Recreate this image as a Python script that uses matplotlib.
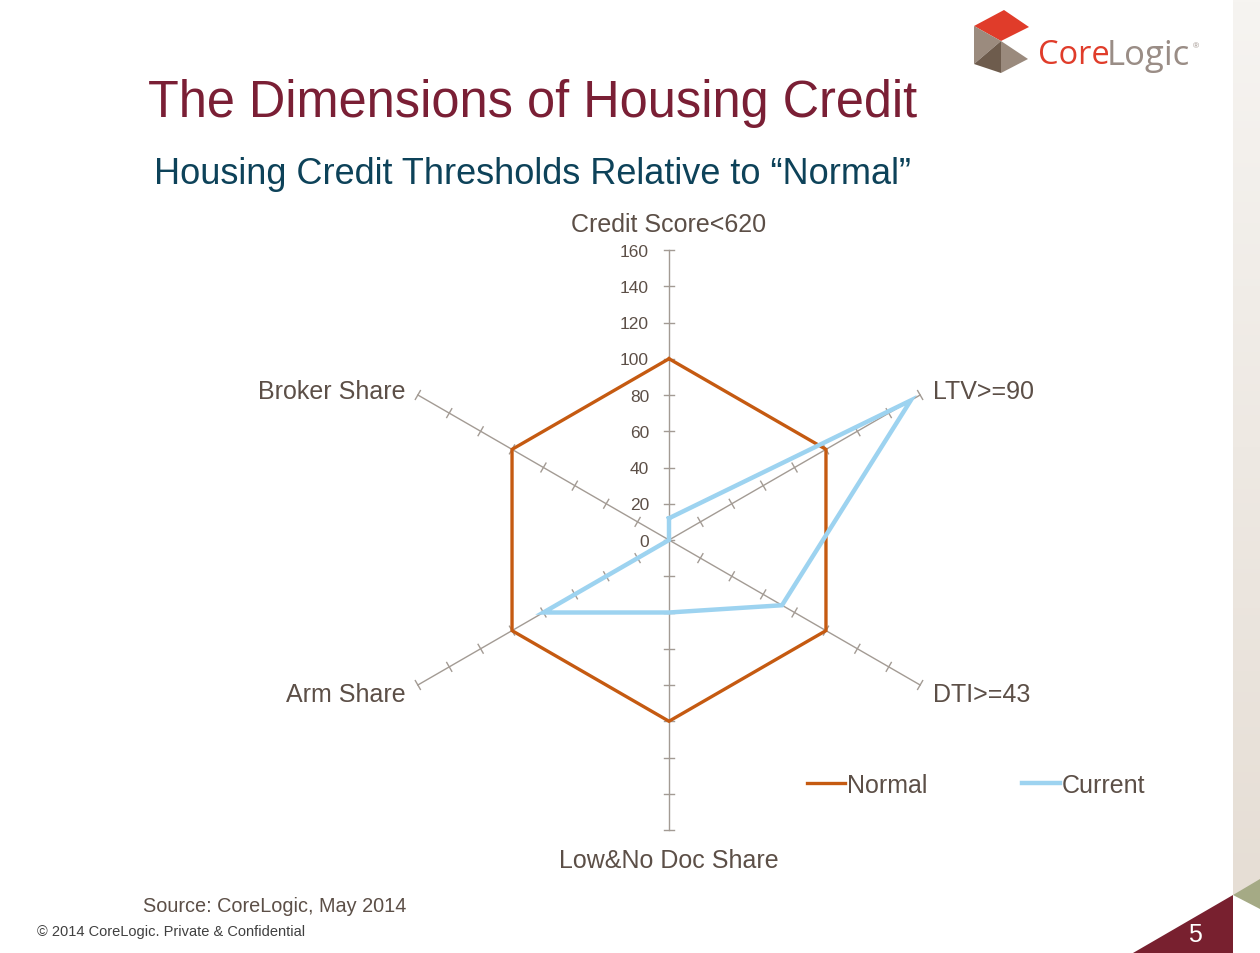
import numpy as np
import matplotlib
matplotlib.use("Agg")
import matplotlib.pyplot as plt
from matplotlib.colors import LinearSegmentedColormap
from matplotlib.patches import Polygon

plt.rcParams["font.family"] = ["Liberation Sans", "DejaVu Sans"]

# --- data ---
categories = ["Credit Score<620", "LTV>=90", "DTI>=43",
              "Low&No Doc Share", "Arm Share", "Broker Share"]
normal = [100, 100, 100, 100, 100, 100]
current = [12, 154, 72, 40, 80, 0]
ticks = [0, 20, 40, 60, 80, 100, 120, 140, 160]
rmax = 160

TXT = "#5c4f47"
ORANGE = "#c55a11"
BLUE = "#9dd3f0"
SPOKE = "#a39b94"

W, H = 1260, 954
fig = plt.figure(figsize=(W / 100, H / 100), dpi=100)

# --- page decoration layer (pixel coords) ---
bg = fig.add_axes([0, 0, 1, 1])
bg.set_xlim(0, W)
bg.set_ylim(H, 0)
bg.axis("off")

grad = np.linspace(0, 1, 256).reshape(-1, 1)
cmap = LinearSegmentedColormap.from_list("strip", ["#f6f4f1", "#e6ded5"])
bg.imshow(grad, cmap=cmap, extent=[1233, W, 896, 0], aspect="auto", zorder=0)
bg.add_patch(Polygon([(1133, 954), (1233, 896), (1233, 954)], color="#78202f", lw=0))
bg.add_patch(Polygon([(1233, 896), (1260, 880), (1260, 910)], color="#a5aa85", lw=0))
bg.text(1195, 935, "5", color="white", fontsize=18, ha="center", va="center")

# logo
bg.add_patch(Polygon([(974, 27), (1004, 11), (1029, 28), (1001, 42)], color="#e03c2a", lw=0))
bg.add_patch(Polygon([(974, 27), (1001, 42), (974, 65)], color="#9b8b7e", lw=0))
bg.add_patch(Polygon([(974, 65), (1001, 42), (1001, 74)], color="#6e5c4d", lw=0))
bg.add_patch(Polygon([(1001, 42), (1028, 60), (1001, 74)], color="#9a8a7d", lw=0))
bg.text(1038, 56, "Core", color="#e03c2a", fontsize=23.5, ha="left", va="center",
        family="Open Sans")
bg.text(1107, 56, "Logic", color="#9a8d86", fontsize=25, ha="left", va="center",
        family="Open Sans")
bg.text(1193, 47, "®", color="#9a8d86", fontsize=6, ha="left", va="center")

bg.text(533, 104, "The Dimensions of Housing Credit", color="#7a1f35",
        fontsize=36.4, ha="center", va="center")
bg.text(532, 175, "Housing Credit Thresholds Relative to \u201cNormal\u201d",
        color="#0d4259", fontsize=26, ha="center", va="center")
bg.text(406, 907, "Source: CoreLogic, May 2014", color=TXT, fontsize=14.3,
        ha="right", va="center")
bg.text(37, 932, "\u00a9 2014 CoreLogic. Private & Confidential", color="#404040",
        fontsize=10.5, ha="left", va="center")

# --- radar axes ---
cx, cy, scale = 669, 541, 290 / rmax  # pixel centre, px per unit
half = 200
ax = fig.add_axes([(cx - half * scale) / W, (H - cy - half * scale) / H,
                   2 * half * scale / W, 2 * half * scale / H])
ax.set_xlim(-half, half)
ax.set_ylim(-half, half)
ax.set_aspect("equal")
ax.axis("off")
ax.patch.set_alpha(0)

n = len(categories)
ang = np.pi / 2 - np.arange(n) * 2 * np.pi / n
ux, uy = np.cos(ang), np.sin(ang)

tlen = 2.8
for k in range(n):
    ax.plot([0, rmax * ux[k]], [0, rmax * uy[k]], color=SPOKE, lw=1, zorder=1)
    px, py = -uy[k], ux[k]
    for t in ticks[1:]:
        ax.plot([t * ux[k] - tlen * px, t * ux[k] + tlen * px],
                [t * uy[k] - tlen * py, t * uy[k] + tlen * py],
                color=SPOKE, lw=1, zorder=1)
ax.plot([-tlen, tlen], [0, 0], color=SPOKE, lw=1, zorder=1)

for t in ticks:
    ax.text(-11, t - 0.6, str(t), color=TXT, fontsize=12.5, ha="right", va="center")

for k, lab in enumerate(categories):
    ex, ey = rmax * ux[k], rmax * uy[k]
    if abs(ux[k]) < 1e-6:
        ax.text(0, np.sign(uy[k]) * 175.4 - 1.2, lab, color=TXT, fontsize=18,
                ha="center", va="center")
    else:
        ax.text(ex + 7 * np.sign(ux[k]), ey + 3.6 * np.sign(uy[k]) - 1.2, lab,
                color=TXT, fontsize=18, va="center",
                ha="left" if ux[k] > 0 else "right")

nv = np.array(normal + normal[:1])
cv = np.array(current + current[:1])
uxc, uyc = np.append(ux, ux[0]), np.append(uy, uy[0])
h1, = ax.plot(nv * uxc, nv * uyc, color=ORANGE, lw=2.4, zorder=2,
              solid_joinstyle="miter", label="Normal")
h2, = ax.plot(cv * uxc, cv * uyc, color=BLUE, lw=3.2, zorder=3,
              solid_joinstyle="miter", label="Current")

fig.legend(handles=[h1, h2], loc="center left",
           bbox_to_anchor=(807 / W, (H - 786) / H), ncol=2, frameon=False,
           fontsize=18, labelcolor=TXT, handlelength=1.52, handletextpad=0.1,
           columnspacing=3.75, borderpad=0, borderaxespad=0)

fig.savefig("out.png", dpi=100)
